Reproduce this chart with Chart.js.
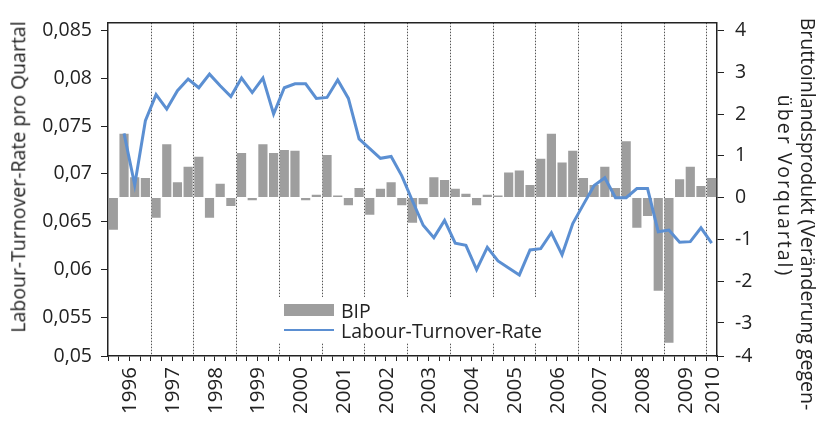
<!DOCTYPE html>
<html>
<head>
<meta charset="utf-8">
<script src="https://cdn.jsdelivr.net/npm/chart.js@4.4.1/dist/chart.umd.min.js"></script>
<style>
  html, body { margin:0; padding:0; background:#fff; }
  #wrap { position:relative; width:830px; height:423px; font-family:'Open Sans', sans-serif; color:#222; }
  #wrap canvas { position:absolute; left:0; top:0; }
  .rot { position:absolute; white-space:nowrap; font-size:19.5px; line-height:1; }
  .legend { position:absolute; left:274px; top:297px; width:272px; height:46px; background:#fff; font-size:19.5px; }
  .legend .row { position:absolute; left:10px; display:flex; align-items:center; height:22px; }
  .legend .sw { width:50px; margin-right:7px; }
</style>
</head>
<body>
<div id="wrap">
  <canvas id="chart" width="830" height="423"></canvas>
  <div class="rot" id="titleL">Labour-Turnover-Rate pro Quartal</div>
  <div class="rot" id="titleR1">Bruttoinlandsprodukt (Veränderung gegen-</div>
  <div class="rot" id="titleR2" style="letter-spacing:2px">über Vorquartal)</div>
  <div class="legend">
    <div class="row" style="top:2px"><span class="sw" style="height:12px;background:#9e9e9e"></span>BIP</div>
    <div class="row" style="top:22px"><span class="sw" style="height:2.5px;background:#5b8fd2"></span>Labour-Turnover-Rate</div>
  </div>
</div>
<script>
/* ── data ── */
const YEARS = ['1996','1997','1998','1999','2000','2001','2002','2003','2004','2005','2006','2007','2008','2009','2010'];
const QUARTERS = YEARS.flatMap(y => y === '2010' ? [y+' Q1'] : [1,2,3,4].map(q => y+' Q'+q));

// BIP, Veränderung gegenüber Vorquartal (%)
const BIP = [
  -0.77, 1.53, 0.49, 0.47,
  -0.48, 1.28, 0.37, 0.74,
   0.98,-0.48, 0.33,-0.20,
   1.07,-0.06, 1.28, 1.07,
   1.14, 1.12,-0.06, 0.07,
   1.02, 0.05,-0.18, 0.23,
  -0.41, 0.21, 0.37,-0.18,
  -0.60,-0.16, 0.49, 0.42,
   0.21, 0.09,-0.18, 0.07,
   0.05, 0.60, 0.65, 0.30,
   0.93, 1.53, 0.84, 1.12,
   0.47, 0.30, 0.74, 0.23,
   1.35,-0.72,-0.44,-2.23,
  -3.47, 0.44, 0.74, 0.28,
   0.47
];

// Labour-Turnover-Rate pro Quartal
const LTR = [
  null,    0.07423, 0.06884, 0.07555,
  0.07829, 0.07677, 0.07870, 0.07992,
  0.07900, 0.08043, 0.07921, 0.07809,
  0.08002, 0.07850, 0.08002, 0.07626,
  0.07900, 0.07941, 0.07941, 0.07789,
  0.07799, 0.07982, 0.07789, 0.07365,
  0.07264, 0.07162, 0.07182, 0.06979,
  0.06715, 0.06461, 0.06332, 0.06512,
  0.06274, 0.06251, 0.05997, 0.06230,
  0.06088, 0.06014, 0.05942, 0.06203,
  0.06217, 0.06383, 0.06153, 0.06480,
  0.06680, 0.06878, 0.06959, 0.06750,
  0.06750, 0.06845, 0.06845, 0.06394,
  0.06411, 0.06283, 0.06290, 0.06435,
  0.06275
];

const LEFT_TICKS  = [0.05, 0.055, 0.06, 0.065, 0.07, 0.075, 0.08, 0.085];
const LEFT_LABELS = ['0,05','0,055','0,06','0,065','0,07','0,075','0,08','0,085'];
const RIGHT_TICKS  = [-4, -3, -2, -1, 0, 1, 2, 3, 4];
const RIGHT_LABELS = ['-4','-3','-2','-1','0','1','2','3','4'];

// axis is cut a bit below the lowest tick; lowest label sits on the cut
const LEFT_MIN = 0.050935, LEFT_MAX = 0.08581;
const RIGHT_MIN = -3.79,   RIGHT_MAX = 4.186;

// year label positions (category index) and year boundaries
const YEAR_POS = YEARS.map((y,i) => y === '2010' ? 56 : i*4 + 1.5);
const YEAR_BOUNDS = YEARS.slice(1).map((y,i) => i*4 + 3.5);

/* ── overlay titles ── */
function place(id, cx, cy, deg) {
  const el = document.getElementById(id);
  el.style.left = cx + 'px'; el.style.top = cy + 'px';
  el.style.transform = `translate(-50%,-50%) rotate(${deg}deg)`;
}
place('titleL', 18, 177, -90);
place('titleR1', 808, 214, 90);
place('titleR2', 785, 186, 90);

const INK = '#222';
const FONT = { family:'Open Sans', size:19.5 };

const yearLines = {
  id:'yearLines',
  beforeDatasetsDraw(chart) {
    const { ctx, chartArea:a, scales } = chart;
    ctx.save();
    ctx.strokeStyle = '#555'; ctx.lineWidth = 1; ctx.setLineDash([1.5,1.5]);
    YEAR_BOUNDS.forEach(b => {
      const x = Math.round(scales.xYear.getPixelForValue(b)) + 0.5;
      ctx.beginPath(); ctx.moveTo(x, a.top); ctx.lineTo(x, a.bottom); ctx.stroke();
    });
    ctx.restore();
  },
  afterDraw(chart) {
    const { ctx, chartArea:a } = chart;
    ctx.save();
    ctx.strokeStyle = INK; ctx.lineWidth = 1.5;
    ctx.beginPath(); ctx.moveTo(a.left, a.top); ctx.lineTo(a.right, a.top); ctx.stroke();
    ctx.restore();
  }
};

const ctx = document.getElementById('chart').getContext('2d');
new Chart(ctx, {
  data:{
    labels: QUARTERS,
    datasets:[
      { type:'line', label:'Labour-Turnover-Rate', data:LTR, yAxisID:'yL', borderColor:'#5b8fd2', borderWidth:3, pointRadius:0, tension:0, fill:false, order:1 },
      { type:'bar', label:'BIP', data:BIP, yAxisID:'yR', backgroundColor:'#9e9e9e', barPercentage:0.86, categoryPercentage:1, order:2 }
    ]
  },
  options:{
    responsive:false, animation:false,
    layout:{ padding:{ top:13, left:0, right:0, bottom:0 } },
    plugins:{ legend:{ display:false }, tooltip:{ enabled:false } },
    scales:{
      x:{
        type:'category', position:'bottom', offset:true,
        grid:{ offset:true, drawOnChartArea:false, tickLength:5, color:INK, lineWidth:1 },
        border:{ color:INK, width:1.5 },
        ticks:{ display:false },
        afterFit:s => { s.height = 5; }
      },
      xYear:{
        type:'linear', position:'bottom', min:-0.5, max:56.5,
        grid:{ display:false, drawTicks:false }, border:{ display:false },
        afterBuildTicks:s => { s.ticks = YEAR_POS.map(v => ({ value:v })); },
        ticks:{ autoSkip:false, minRotation:90, maxRotation:90, padding:6, labelOffset:1, color:INK,
                font:{ family:'Open Sans', size:20.5 }, callback:(v,i) => YEARS[i] },
        afterFit:s => { s.height = 62; }
      },
      yL:{
        type:'linear', position:'left', min:LEFT_MIN, max:LEFT_MAX,
        grid:{ drawOnChartArea:false, tickLength:7, color:INK, lineWidth:1 },
        border:{ color:INK, width:1.5 },
        afterBuildTicks:s => { s.ticks = LEFT_TICKS.map((v,i) => ({ value: i === 0 ? LEFT_MIN : v })); },
        ticks:{ padding:9, color:INK, font:FONT, callback:(v,i) => LEFT_LABELS[i] },
        afterFit:s => { s.width = 108; }
      },
      yR:{
        type:'linear', position:'right', min:RIGHT_MIN, max:RIGHT_MAX,
        grid:{ drawOnChartArea:false, tickLength:7, color:INK, lineWidth:1 },
        border:{ color:INK, width:1.5 },
        afterBuildTicks:s => { s.ticks = RIGHT_TICKS.map((v,i) => ({ value: i === 0 ? RIGHT_MIN : v })); },
        ticks:{ padding:11, color:INK, font:FONT, callback:(v,i) => RIGHT_LABELS[i] },
        afterFit:s => { s.width = 113; }
      }
    }
  },
  plugins:[yearLines]
});
</script>
</body>
</html>
